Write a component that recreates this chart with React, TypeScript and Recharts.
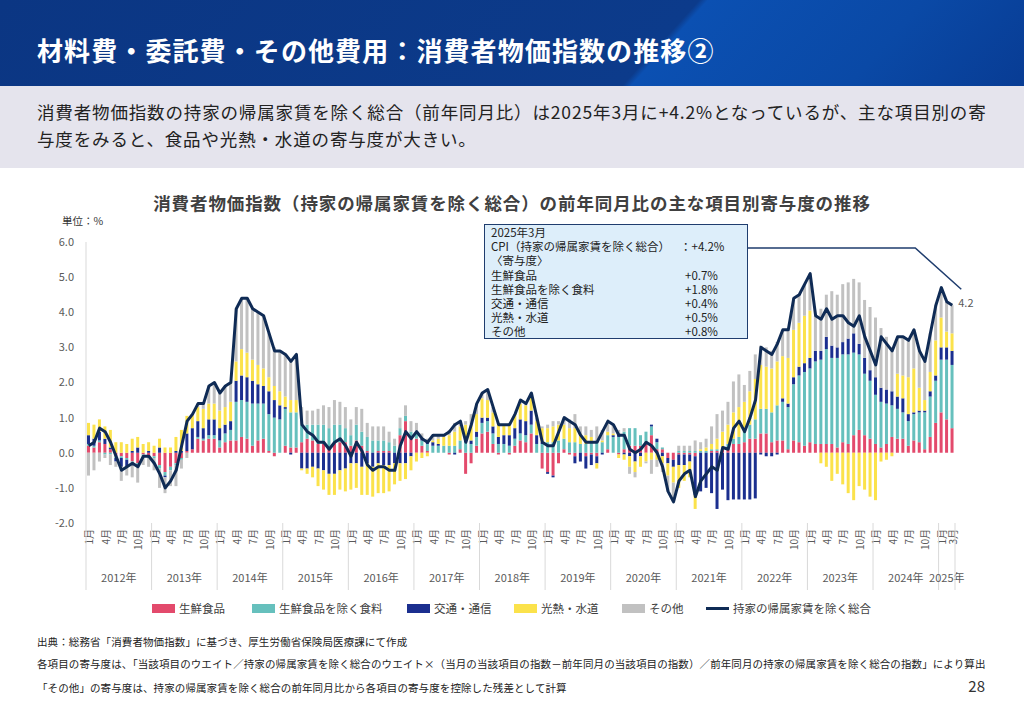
import { ComposedChart, Bar, Line, XAxis, YAxis, LabelList } from 'recharts';

// 2012年1月〜2025年3月（月次）
const years = [2012, 2013, 2014, 2015, 2016, 2017, 2018, 2019, 2020, 2021, 2022, 2023, 2024, 2025];
const monthsInYear = [12, 12, 12, 12, 12, 12, 12, 12, 12, 12, 12, 12, 12, 3];

// 寄与度（%ポイント）
const fresh = [
    0.2, 0.15, 0.3, 0.25, 0.1, -0.1, -0.1, -0.15, -0.25, -0.3, -0.05, -0.1,
    -0.1, -0.35, -0.55, -0.4, -0.3, -0.15, 0.05, 0.1, 0.4, 0.35, 0.4, 0.4,
    0.15, 0.3, 0.35, 0.35, 0.45, 0.4, 0.2, 0.35, 0.4, 0.05, -0.1, 0.0,
    0.2, 0.15, 0.15, 0.3, 0.4, 0.35, 0.25, 0.25, 0.15, 0.3, 0.3, 0.3,
    0.2, 0.35, 0.2, 0.05, 0.0, 0.05, 0.05, 0.05, 0.0, 0.5, 0.9, 0.4,
    0.4, 0.2, 0.05, 0.0, 0.0, 0.0, -0.05, 0.0, 0.1, -0.6, -0.3, 0.2,
    0.55, 0.6, 0.25, -0.05, 0.0, -0.05, 0.2, 0.35, 0.3, 0.55, 0.0, -0.45,
    -0.55, -0.65, -0.3, 0.1, -0.05, -0.1, 0.0, -0.1, -0.05, -0.1, 0.0, 0.1,
    0.0, -0.05, 0.1, 0.2, 0.2, 0.2, 0.3, 0.5, 0.1, 0.1, -0.15, -0.2,
    -0.05, -0.05, -0.05, -0.1, 0.0, 0.0, 0.05, 0.05, 0.1, 0.15, 0.25, 0.25,
    0.3, 0.4, 0.4, 0.55, 0.55, 0.3, 0.35, 0.35, 0.1, 0.35, 0.3, 0.2,
    0.3, 0.25, 0.25, 0.25, 0.25, 0.15, 0.3, 0.25, 0.5, 0.65, 0.5, 0.4,
    0.25, 0.15, 0.25, 0.45, 0.4, 0.4, 0.2, 0.35, 0.3, 0.1, 0.45, 0.85,
    1.15, 0.95, 0.7,
];

const food = [
    0.05, 0.05, 0.05, -0.05, -0.05, -0.05, -0.05, -0.05, -0.05, -0.05, -0.05, -0.05,
    -0.05, -0.1, -0.1, -0.1, -0.05, -0.05, 0.0, 0.0, 0.05, 0.05, 0.1, 0.1,
    0.2, 0.25, 0.3, 1.1, 1.05, 1.05, 1.2, 1.05, 1.0, 1.05, 1.0, 0.95,
    1.05, 1.0, 1.0, 0.5, 0.4, 0.45, 0.55, 0.55, 0.55, 0.5, 0.5, 0.4,
    0.3, 0.45, 0.4, 0.4, 0.35, 0.3, 0.3, 0.25, 0.2, 0.2, 0.15, 0.2,
    0.15, 0.15, 0.2, 0.2, 0.2, 0.2, 0.2, 0.2, 0.25, 0.3, 0.25, 0.25,
    0.3, 0.3, 0.3, 0.25, 0.25, 0.2, 0.2, 0.2, 0.2, 0.25, 0.25, 0.25,
    0.3, 0.3, 0.35, 0.3, 0.3, 0.3, 0.25, 0.25, 0.3, 0.3, 0.3, 0.4,
    0.45, 0.45, 0.5, 0.5, 0.5, 0.3, 0.3, 0.25, 0.2, 0.05, 0.0, 0.0,
    0.05, 0.05, 0.05, 0.05, 0.05, 0.05, 0.05, 0.05, 0.05, 0.1, 0.15, 0.2,
    0.3, 0.4, 0.55, 0.7, 0.7, 0.85, 1.0, 1.1, 1.2, 1.6, 1.9, 2.1,
    2.1, 2.35, 2.4, 2.7, 2.45, 2.55, 2.5, 2.55, 2.35, 2.15, 1.75, 1.65,
    1.4, 1.3, 1.15, 0.9, 0.85, 0.75, 0.7, 0.75, 0.85, 1.05, 1.15, 1.2,
    1.5, 1.7, 1.8,
];

const transport = [
    0.25, 0.2, 0.25, 0.15, 0.05, -0.1, -0.25, -0.2, 0.05, 0.15, 0.0, 0.05,
    0.0, 0.15, -0.05, 0.0, 0.05, 0.05, 0.5, 0.6, 0.45, 0.3, 0.45, 0.45,
    0.35, 0.25, 0.25, 0.6, 0.7, 0.7, 0.65, 0.55, 0.5, 0.65, 0.5, 0.4,
    0.05, -0.05, 0.0, -0.45, -0.45, -0.4, -0.45, -0.5, -0.6, -0.6, -0.5, -0.45,
    -0.3, -0.3, -0.4, -0.3, -0.4, -0.3, -0.35, -0.35, -0.3, -0.3, -0.3, -0.1,
    0.0, 0.05, 0.05, 0.1, 0.05, 0.0, 0.0, -0.05, 0.0, 0.1, 0.1, 0.15,
    0.15, 0.1, 0.2, 0.2, 0.25, 0.3, 0.3, 0.4, 0.4, 0.4, 0.25, 0.05,
    -0.05, -0.05, 0.0, 0.0, 0.0, -0.2, -0.25, -0.35, -0.3, -0.2, -0.05, 0.0,
    0.05, 0.1, -0.05, -0.1, -0.25, -0.1, 0.0, 0.05, 0.1, -0.1, -0.15, -0.2,
    -0.3, -0.3, -0.2, -1.1, -1.1, -1.0, -1.15, -1.6, -1.05, -1.35, -1.33, -1.33,
    -1.33, -1.33, -1.3, -0.05, -0.1, -0.1, -0.05, 0.1, 0.1, 0.2, 0.25, 0.25,
    0.3, 0.3, 0.25, 0.35, 0.35, 0.3, 0.35, 0.45, 0.55, 0.3, 0.45, 0.3,
    0.5, 0.4, 0.4, 0.4, 0.35, 0.4, 0.2, 0.05, 0.05, 0.05, 0.15, 0.15,
    0.35, 0.35, 0.4,
];

const utilities = [
    0.35, 0.4, 0.35, 0.35, 0.5, 0.3, 0.3, 0.25, 0.35, 0.3, 0.25, 0.25,
    0.2, 0.25, 0.15, 0.15, 0.4, 0.6, 0.5, 0.4, 0.4, 0.55, 0.45, 0.45,
    0.5, 0.5, 0.55, 0.55, 0.75, 0.7, 0.6, 0.55, 0.5, 0.4, 0.4, 0.4,
    0.3, 0.35, 0.35, -0.05, -0.15, -0.3, -0.5, -0.55, -0.6, -0.6, -0.55, -0.65,
    -0.75, -0.7, -0.8, -0.9, -0.85, -0.85, -0.8, -0.75, -0.6, -0.5, -0.45, -0.4,
    -0.25, -0.15, -0.1, 0.05, 0.15, 0.25, 0.3, 0.4, 0.4, 0.4, 0.45, 0.5,
    0.55, 0.5, 0.4, 0.35, 0.3, 0.3, 0.4, 0.45, 0.45, 0.4, 0.4, 0.4,
    0.4, 0.45, 0.45, 0.4, 0.4, 0.4, 0.3, 0.25, 0.15, -0.15, 0.05, 0.1,
    0.05, -0.1, -0.15, -0.3, -0.3, -0.3, -0.25, -0.2, -0.2, -0.2, -0.35, -0.45,
    -0.65, -0.45, -0.45, -0.4, 0.05, 0.1, 0.15, 0.3, 0.45, 0.55, 0.75, 0.85,
    0.85, 0.95, 1.15, 1.25, 1.2, 1.25, 1.25, 1.2, 1.3, 1.35, 1.25, 1.35,
    1.35, 0.0, -0.3, -0.4, -0.8, -0.6, -0.9, -1.15, -1.35, -0.95, -1.05, -1.25,
    -1.35, -0.25, -0.2, -0.1, 0.65, 0.65, 1.05, 1.25, 0.65, 0.3, 0.55, 1.0,
    0.85, 0.45, 0.5,
];

const other = [
    -0.65, -0.5, -0.25, -0.1, -0.3, -0.15, -0.4, -0.25, -0.4, -0.5, -0.25, -0.25,
    -0.35, -0.55, -0.45, -0.45, -0.6, -0.25, -0.15, 0.0, 0.1, 0.15, 0.5, 0.6,
    0.5, 0.6, 0.55, 1.5, 1.45, 1.55, 1.45, 1.5, 1.5, 1.25, 1.1, 1.15,
    1.2, 1.15, 1.3, 0.5, 0.4, 0.4, 0.45, 0.55, 0.6, 0.7, 0.65, 0.6,
    0.45, 0.5, 0.65, 0.4, 0.4, 0.4, 0.4, 0.3, 0.2, 0.3, 0.3, 0.3,
    0.3, 0.15, 0.1, 0.15, 0.1, 0.05, 0.15, 0.25, 0.15, 0.1, 0.3, 0.3,
    0.15, 0.3, 0.15, 0.05, 0.0, 0.05, 0.0, 0.1, 0.05, 0.1, 0.1, 0.05,
    0.1, 0.15, 0.1, 0.2, 0.25, 0.4, 0.2, 0.25, 0.2, 0.45, 0.3, 0.3,
    0.25, 0.1, 0.1, -0.2, -0.15, 0.0, -0.05, -0.4, -0.2, -0.25, -0.45, -0.55,
    0.15, 0.15, 0.15, 0.3, 0.2, 0.25, 0.5, 0.7, 0.6, 0.65, 0.88, 0.93,
    0.48, 0.58, 0.7, 0.55, 0.55, 0.5, 0.55, 0.75, 0.8, 0.9, 0.8, 0.9,
    1.05, 1.0, 1.2, 1.2, 1.55, 1.5, 1.65, 1.6, 1.55, 1.75, 1.65, 1.8,
    1.7, 1.7, 1.5, 1.25, 1.05, 1.1, 1.05, 1.1, 1.05, 1.1, 1.1, 1.0,
    0.85, 0.85, 0.8,
];

// 持家の帰属家賃を除く総合（前年同月比、%）
const cpi = [
    0.2, 0.3, 0.7, 0.6, 0.3, -0.1, -0.5, -0.4, -0.3, -0.4, -0.1, -0.1,
    -0.3, -0.6, -1.0, -0.8, -0.5, 0.2, 0.9, 1.1, 1.4, 1.4, 1.9, 2.0,
    1.7, 1.9, 2.0, 4.1, 4.4, 4.4, 4.1, 4.0, 3.9, 3.4, 2.9, 2.9,
    2.8, 2.6, 2.8, 0.8, 0.6, 0.5, 0.3, 0.3, 0.1, 0.3, 0.4, 0.2,
    -0.1, 0.3, 0.05, -0.35, -0.5, -0.4, -0.4, -0.5, -0.5, 0.2, 0.6, 0.4,
    0.6, 0.4, 0.3, 0.5, 0.5, 0.5, 0.6, 0.8, 0.9, 0.3, 0.8, 1.4,
    1.7, 1.8, 1.3, 0.8, 0.8, 0.8, 1.1, 1.5, 1.4, 1.7, 1.0, 0.3,
    0.2, 0.2, 0.6, 1.0, 0.9, 0.8, 0.5, 0.3, 0.3, 0.3, 0.6, 0.9,
    0.8, 0.5, 0.5, 0.1, 0.0, 0.1, 0.3, 0.2, 0.0, -0.4, -1.1, -1.4,
    -0.8, -0.6, -0.5, -1.25, -0.8, -0.6, -0.4, -0.5, 0.15, 0.1, 0.7, 0.9,
    0.6, 1.0, 1.5, 3.0, 2.9, 2.8, 3.1, 3.5, 3.5, 4.4, 4.5, 4.8,
    5.1, 3.9, 3.8, 4.1, 3.8, 3.9, 3.9, 3.7, 3.6, 3.9, 3.3, 2.9,
    2.5, 3.3, 3.1, 2.9, 3.3, 3.3, 3.2, 3.5, 2.9, 2.6, 3.4, 4.2,
    4.7, 4.3, 4.2,
];

const yTicks = [-2, -1, 0, 1, 2, 3, 4, 5, 6];
const tickMonths = [1, 4, 7, 10];

const series = [
    { key: 'fresh', name: '生鮮食品', color: '#e34a6c' },
    { key: 'food', name: '生鮮食品を除く食料', color: '#66c0bd' },
    { key: 'transport', name: '交通・通信', color: '#1b2f8f' },
    { key: 'utilities', name: '光熱・水道', color: '#fbe24b' },
    { key: 'other', name: 'その他', color: '#c1c1c1' },
];
const lineName = '持家の帰属家賃を除く総合';
const lineColor = '#0f2b55';

const boxTitle = '2025年3月';
const boxHeadLabel = 'CPI（持家の帰属家賃を除く総合）';
const boxHeadValue = '：+4.2%';
const boxSub = '〈寄与度〉';
const boxRows = [
    ['生鮮食品', '+0.7%'],
    ['生鮮食品を除く食料', '+1.8%'],
    ['交通・通信', '+0.4%'],
    ['光熱・水道', '+0.5%'],
    ['その他', '+0.8%'],
];

const categories: string[] = [];
years.forEach((y, yi) => {
    for (let m = 1; m <= monthsInYear[yi]; m++) categories.push(`${y}-${m}`);
});

const data = categories.map((key, i) => ({
    key,
    fresh: fresh[i],
    food: food[i],
    transport: transport[i],
    utilities: utilities[i],
    other: other[i],
    cpi: cpi[i],
}));

const FONT = '"Noto Sans CJK JP", "Noto Sans", sans-serif';
const CHART_H = 600;
const PLOT_LEFT = 86;
const PLOT_RIGHT = 955;
const PLOT_TOP = 242;
const PLOT_BOTTOM = 523;
const BAND = (PLOT_RIGHT - PLOT_LEFT) / data.length;
const BOX = { left: 484, top: 224, width: 264, height: 115 };
const AXIS_GRAY = '#595959';
const SEP_COLOR = '#d9d9d9';

function MonthTick(props: any) {
    const { x, payload } = props;
    const [yStr, mStr] = String(payload.value).split('-');
    const year = Number(yStr);
    const month = Number(mStr);
    const n = monthsInYear[years.indexOf(year)];
    const isLast = payload.value === categories[categories.length - 1];
    const showMonth = tickMonths.includes(month) || isLast;
    const labelY = 529;
    let yearX: number | null = null;
    if (n % 2 === 0 && month === n / 2 + 1) yearX = x - BAND / 2;
    if (n % 2 === 1 && month === (n + 1) / 2) yearX = x;
    return (
        <g>
            {showMonth && (
                <text
                    x={x}
                    y={labelY}
                    transform={`rotate(-90 ${x} ${labelY})`}
                    textAnchor="end"
                    dominantBaseline="central"
                    fontSize={10}
                    fill={AXIS_GRAY}
                    fontFamily={FONT}
                >
                    {month}月
                </text>
            )}
            {month === 1 && (
                <line x1={x - BAND / 2} x2={x - BAND / 2} y1={PLOT_BOTTOM} y2={590} stroke={SEP_COLOR} />
            )}
            {isLast && (
                <line x1={x + BAND / 2} x2={x + BAND / 2} y1={PLOT_BOTTOM} y2={590} stroke={SEP_COLOR} />
            )}
            {yearX !== null && (
                <text x={yearX} y={577} textAnchor="middle" dominantBaseline="central" fontSize={11} fill={AXIS_GRAY} fontFamily={FONT}>
                    {year}年
                </text>
            )}
        </g>
    );
}

function EndLabel(props: any) {
    const { x, y, index, value } = props;
    if (index !== data.length - 1) return null;
    const right = BOX.left + BOX.width;
    return (
        <g>
            <polyline
                points={`${right},248 ${x - 37},248 ${x + 9},${y - 16}`}
                fill="none"
                stroke="#1f3d6e"
                strokeWidth={1.5}
            />
            <text x={x + 6} y={y - 3} dominantBaseline="central" fontSize={11} fill={AXIS_GRAY} fontFamily={FONT}>
                {Number(value).toFixed(1)}
            </text>
        </g>
    );
}

const legendLefts = [152, 252, 407, 514, 622, 706];

export default function App() {
    return (
        <div
            style={{
                position: 'absolute',
                left: 0,
                top: 0,
                width: 1024,
                height: 709,
                overflow: 'hidden',
                background: '#ffffff',
                fontFamily: FONT,
                color: '#222',
            }}
        >
            <div
                style={{
                    position: 'absolute',
                    left: 0,
                    top: 0,
                    width: 1024,
                    height: 86,
                    background:
                        'linear-gradient(132deg, #0b3683 0%, #0c3b8b 63.5%, #0b50b2 64.3%, #0a49a6 84%, #083c94 100%)',
                }}
            />
            <div
                style={{
                    position: 'absolute',
                    left: 37,
                    top: 31,
                    lineHeight: '38px',
                    fontSize: 26,
                    fontWeight: 700,
                    letterSpacing: 1.1,
                    color: '#ffffff',
                    whiteSpace: 'nowrap',
                }}
            >
                材料費・委託費・その他費用：消費者物価指数の推移②
            </div>
            <div style={{ position: 'absolute', left: 0, top: 86, width: 1024, height: 82, background: '#e5e4ed' }} />
            <div
                style={{
                    position: 'absolute',
                    left: 37,
                    top: 98,
                    fontSize: 17.5,
                    lineHeight: '27px',
                    letterSpacing: 0.85,
                    color: '#222',
                    whiteSpace: 'nowrap',
                }}
            >
                <div>消費者物価指数の持家の帰属家賃を除く総合（前年同月比）は2025年3月に+4.2%となっているが、主な項目別の寄</div>
                <div>与度をみると、食品や光熱・水道の寄与度が大きい。</div>
            </div>
            <div
                style={{
                    position: 'absolute',
                    left: 0,
                    top: 191,
                    width: 1024,
                    textAlign: 'center',
                    fontSize: 17.5,
                    lineHeight: '24px',
                    fontWeight: 700,
                    letterSpacing: 0.9,
                    color: '#404040',
                    whiteSpace: 'nowrap',
                }}
            >
                消費者物価指数（持家の帰属家賃を除く総合）の前年同月比の主な項目別寄与度の推移
            </div>
            <div style={{ position: 'absolute', left: 62, top: 213, fontSize: 10.5, lineHeight: '16px', color: '#333' }}>
                単位：%
            </div>

            <div style={{ position: 'absolute', left: 0, top: 0 }}>
                <ComposedChart
                    width={1024}
                    height={CHART_H}
                    data={data}
                    stackOffset="sign"
                    margin={{ top: PLOT_TOP, right: 1024 - PLOT_RIGHT, bottom: 0, left: PLOT_LEFT - 60 }}
                >
                    <XAxis
                        dataKey="key"
                        interval={0}
                        tickLine={false}
                        axisLine={false}
                        height={CHART_H - PLOT_BOTTOM}
                        tick={(p: any) => <MonthTick {...p} />}
                    />
                    <YAxis
                        type="number"
                        domain={[-2, 6]}
                        ticks={yTicks}
                        interval={0}
                        width={60}
                        axisLine={{ stroke: SEP_COLOR }}
                        tickLine={false}
                        tickMargin={6}
                        tick={{ fontSize: 11, fill: AXIS_GRAY, fontFamily: FONT }}
                        tickFormatter={(v: number) => v.toFixed(1)}
                    />
                    {series.map((s) => (
                        <Bar
                            key={s.key}
                            dataKey={s.key}
                            name={s.name}
                            stackId="contrib"
                            fill={s.color}
                            barSize={3}
                            isAnimationActive={false}
                        />
                    ))}
                    <Line
                        dataKey="cpi"
                        name={lineName}
                        type="linear"
                        stroke={lineColor}
                        strokeWidth={3}
                        strokeLinejoin="round"
                        dot={false}
                        activeDot={false}
                        isAnimationActive={false}
                    >
                        <LabelList dataKey="cpi" content={(p: any) => <EndLabel {...p} />} />
                    </Line>
                </ComposedChart>
            </div>

            <div
                style={{
                    position: 'absolute',
                    left: BOX.left,
                    top: BOX.top,
                    width: BOX.width,
                    height: BOX.height,
                    boxSizing: 'border-box',
                    background: '#ddeefa',
                    border: '1.5px solid #1f3d6e',
                    fontSize: 11.5,
                    lineHeight: '14.2px',
                    color: '#222',
                    paddingLeft: 6,
                    whiteSpace: 'nowrap',
                }}
            >
                <div>{boxTitle}</div>
                <div style={{ position: 'relative' }}>
                    {boxHeadLabel}
                    <span style={{ position: 'absolute', left: 189 }}>{boxHeadValue}</span>
                </div>
                <div>{boxSub}</div>
                {boxRows.map(([label, value]) => (
                    <div key={label} style={{ position: 'relative' }}>
                        {label}
                        <span style={{ position: 'absolute', left: 194 }}>{value}</span>
                    </div>
                ))}
            </div>

            {[...series.map((s) => ({ name: s.name, color: s.color, line: false })), { name: lineName, color: lineColor, line: true }].map(
                (item, i) => (
                    <div
                        key={item.name}
                        style={{
                            position: 'absolute',
                            left: legendLefts[i],
                            top: 600,
                            height: 16,
                            display: 'flex',
                            alignItems: 'center',
                            fontSize: 11.5,
                            color: '#404040',
                            whiteSpace: 'nowrap',
                        }}
                    >
                        <span
                            style={{
                                display: 'inline-block',
                                width: 23,
                                height: item.line ? 3 : 9,
                                background: item.color,
                                marginRight: 4,
                            }}
                        />
                        {item.name}
                    </div>
                ),
            )}

            <div style={{ position: 'absolute', left: 37, top: 634, fontSize: 10.5, lineHeight: '16px', letterSpacing: 0.1, color: '#222', whiteSpace: 'nowrap' }}>
                出典：総務省「消費者物価指数」に基づき、厚生労働省保険局医療課にて作成
            </div>
            <div style={{ position: 'absolute', left: 37, top: 656, fontSize: 10.5, lineHeight: '16px', letterSpacing: 0.1, color: '#222', whiteSpace: 'nowrap' }}>
                各項目の寄与度は、「当該項目のウエイト／持家の帰属家賃を除く総合のウエイト×（当月の当該項目の指数－前年同月の当該項目の指数）／前年同月の持家の帰属家賃を除く総合の指数」により算出
            </div>
            <div style={{ position: 'absolute', left: 37, top: 680, fontSize: 10.5, lineHeight: '16px', letterSpacing: 0.1, color: '#222', whiteSpace: 'nowrap' }}>
                「その他」の寄与度は、持家の帰属家賃を除く総合の前年同月比から各項目の寄与度を控除した残差として計算
            </div>
            <div style={{ position: 'absolute', right: 39, top: 676, fontSize: 15, lineHeight: '20px', color: '#333' }}>28</div>
        </div>
    );
}
